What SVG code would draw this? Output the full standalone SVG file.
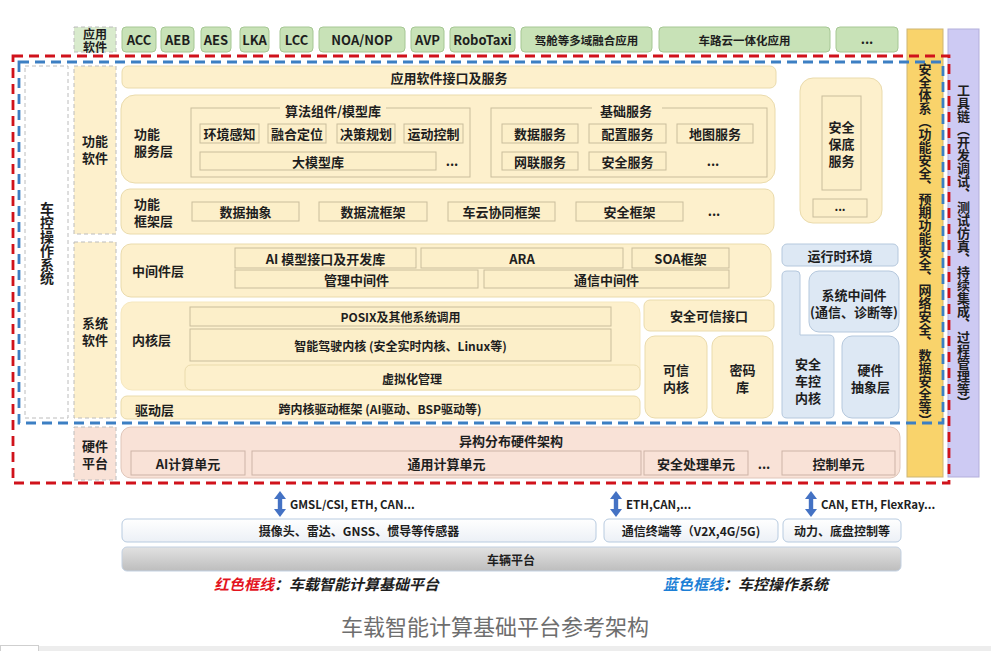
<svg xmlns="http://www.w3.org/2000/svg" width="991" height="651" viewBox="0 0 991 651">
<defs>
<style>
text{font-family:"Noto Sans CJK SC","Noto Sans",sans-serif;font-weight:700;fill:#1e1e1e;font-size:13px;text-anchor:middle;dominant-baseline:central}
.st{text-anchor:start}
.f12{font-size:12px}
.f11{font-size:11.5px}
.app{fill:#C8E2B7;stroke:#A6C794}
.lay{fill:#FDF0CC;stroke:#EADBAC}
.it{fill:#FCEFC9;stroke:#CABD9C}
.grp{fill:none;stroke:#CABD9C}
.blu{fill:#DDE8F4;stroke:#B5C8DD}
.pnk{fill:#F9E2D7;stroke:#E0C6BA}
.pit{fill:#F9E2D7;stroke:#CDB3A7}
.lbl{stroke:#BCBCBC;stroke-dasharray:4 3}
.red{fill:none;stroke:#D0121B;stroke-width:2.8;stroke-dasharray:10 6}
.bl{fill:none;stroke:#3C7FC3;stroke-width:2.8;stroke-dasharray:10 6}
.sen{fill:url(#gsen);stroke:#B8CBE0}
</style>
<linearGradient id="gplat" x1="0" y1="0" x2="0" y2="1"><stop offset="0" stop-color="#E2E2E2"/><stop offset="1" stop-color="#BDBDBD"/></linearGradient>
<linearGradient id="gsen" x1="0" y1="0" x2="0" y2="1"><stop offset="0" stop-color="#FFFFFF"/><stop offset="1" stop-color="#ECF0F6"/></linearGradient>
<path id="arr" d="M0,0 L6,8 L2.2,8 L2.2,18 L6,18 L0,26 L-6,18 L-2.2,18 L-2.2,8 L-6,8 Z" fill="#4472C4"/>
</defs>
<rect width="991" height="651" fill="#FFFFFF"/>

<!-- Application software row -->
<g id="app-software">
<rect class="lbl" x="74" y="27" width="42" height="25" fill="#D9EBCD"/>
<text style="font-size:12px"><tspan x="95" y="33">应用</tspan><tspan x="95" y="46">软件</tspan></text>
<rect class="app" x="122" y="27" width="34" height="25" rx="4"/><text x="139" y="39.5">ACC</text>
<rect class="app" x="161" y="27" width="33" height="25" rx="4"/><text x="177.5" y="39.5">AEB</text>
<rect class="app" x="201" y="27" width="30" height="25" rx="4"/><text x="216" y="39.5">AES</text>
<rect class="app" x="240" y="27" width="29" height="25" rx="4"/><text x="254.5" y="39.5">LKA</text>
<rect class="app" x="280" y="27" width="33" height="25" rx="4"/><text x="296.5" y="39.5">LCC</text>
<rect class="app" x="319" y="27" width="86" height="25" rx="4"/><text x="362" y="39.5">NOA/NOP</text>
<rect class="app" x="411" y="27" width="33" height="25" rx="4"/><text x="427.5" y="39.5">AVP</text>
<rect class="app" x="450" y="27" width="65" height="25" rx="4"/><text x="482.5" y="39.5">RoboTaxi</text>
<rect class="app" x="521" y="27" width="131" height="25" rx="4"/><text class="f11" x="586.5" y="39.5">驾舱等多域融合应用</text>
<rect class="app" x="659" y="27" width="171" height="25" rx="4"/><text class="f11" x="744.5" y="39.5">车路云一体化应用</text>
<rect class="app" x="836" y="27" width="62" height="25" rx="4"/><text x="867" y="38">...</text>
</g>

<!-- Side columns -->
<g id="safety-system">
<rect x="907" y="29" width="36" height="448" fill="#F9D36B" stroke="#CDB574"/>
<text x="925 925 925 925 925 925 925 925 925 925 925 925 925 925 925 925 925 925 925 925 925 925 925 925 925 925 925 925" y="68 81 94 107 120 133 146 159 172 185 198 211 224 237 250 263 276 289 302 315 328 341 354 367 380 393 406 419">安全体系︵功能安全︑预期功能安全︑网络安全︑数据安全等︶</text>
</g>
<g id="toolchain">
<rect x="948" y="29" width="31" height="448" fill="#CDCAF3" stroke="#B3AFDB"/>
<text x="963.5 963.5 963.5 963.5 963.5 963.5 963.5 963.5 963.5 963.5 963.5 963.5 963.5 963.5 963.5 963.5 963.5 963.5 963.5 963.5 963.5 963.5 963.5 963.5 963.5" y="89 102 115 128 141 154 167 180 193 206 219 232 245 258 271 284 297 310 323 336 349 362 375 388 401">工具链︵开发调试︑测试仿真︑持续集成︑过程管理等︶</text>
</g>

<!-- Left label columns -->
<g id="vehicle-os-label">
<rect class="lbl" x="25" y="66" width="43" height="352" fill="#FFFFFF"/>
<text style="font-size:14px" x="47 47 47 47 47 47" y="208 222 236 250 263.5 277">车控操作系统</text>
</g>
<g id="func-software-label">
<rect class="lbl" x="74" y="66" width="42" height="168" fill="#FDF0CC"/>
<text><tspan x="95" y="140">功能</tspan><tspan x="95" y="157">软件</tspan></text>
</g>
<g id="sys-software-label">
<rect class="lbl" x="74" y="242" width="42" height="176" fill="#FDF0CC"/>
<text><tspan x="95" y="322">系统</tspan><tspan x="95" y="339">软件</tspan></text>
</g>
<g id="hw-platform-label">
<rect class="lbl" x="74" y="427" width="42" height="53" fill="#F9E2D7"/>
<text><tspan x="95" y="445">硬件</tspan><tspan x="95" y="462">平台</tspan></text>
</g>

<!-- Functional software -->
<g id="app-interface">
<rect class="lay" x="122" y="66" width="654" height="22" rx="6"/>
<text x="449" y="77">应用软件接口及服务</text>
</g>
<g id="func-service-layer">
<rect class="lay" x="121" y="95" width="654" height="88" rx="14"/>
<text class="st"><tspan x="134" y="133">功能</tspan><tspan x="134" y="150">服务层</tspan></text>
<rect class="grp" x="191" y="108" width="279" height="69"/>
<rect x="280" y="101" width="106" height="16" fill="#FDF0CC"/>
<text x="333" y="110">算法组件/模型库</text>
<rect class="it" x="200" y="124" width="59" height="19"/><text x="229.5" y="133.5">环境感知</text>
<rect class="it" x="268" y="124" width="58" height="19"/><text x="297" y="133.5">融合定位</text>
<rect class="it" x="337" y="124" width="58" height="19"/><text x="366" y="133.5">决策规划</text>
<rect class="it" x="404" y="124" width="59" height="19"/><text x="433.5" y="133.5">运动控制</text>
<rect class="it" x="200" y="152" width="236" height="18"/><text x="318" y="161">大模型库</text>
<text x="452" y="160">...</text>
<rect class="grp" x="491" y="108" width="276" height="69"/>
<rect x="592" y="101" width="70" height="16" fill="#FDF0CC"/>
<text x="626" y="110">基础服务</text>
<rect class="it" x="502" y="124" width="76" height="19"/><text x="540" y="133.5">数据服务</text>
<rect class="it" x="589" y="124" width="77" height="19"/><text x="627.5" y="133.5">配置服务</text>
<rect class="it" x="677" y="124" width="76" height="19"/><text x="715" y="133.5">地图服务</text>
<rect class="it" x="502" y="152" width="76" height="18"/><text x="540" y="161">网联服务</text>
<rect class="it" x="589" y="152" width="77" height="18"/><text x="627.5" y="161">安全服务</text>
<text x="713" y="160">...</text>
</g>
<g id="func-framework-layer">
<rect class="lay" x="121" y="189" width="653" height="45" rx="9"/>
<text class="st"><tspan x="134" y="203">功能</tspan><tspan x="134" y="220">框架层</tspan></text>
<rect class="it" x="192" y="202" width="107" height="19"/><text x="245.5" y="211.5">数据抽象</text>
<rect class="it" x="319" y="202" width="108" height="19"/><text x="373" y="211.5">数据流框架</text>
<rect class="it" x="448" y="202" width="107" height="19"/><text x="501.5" y="211.5">车云协同框架</text>
<rect class="it" x="576" y="202" width="107" height="19"/><text x="629.5" y="211.5">安全框架</text>
<text x="714" y="210">...</text>
</g>
<g id="safety-fallback">
<rect class="lay" x="800" y="78" width="82" height="145" rx="13"/>
<rect class="it" x="822" y="96" width="39" height="94"/>
<text><tspan x="841.5" y="126">安全</tspan><tspan x="841.5" y="143">保底</tspan><tspan x="841.5" y="160">服务</tspan></text>
<rect class="it" x="813" y="199" width="54" height="18"/><text x="840" y="206" class="f11">...</text>
</g>

<!-- System software -->
<g id="middleware-layer">
<rect class="lay" x="121" y="244" width="650" height="53" rx="10"/>
<text class="st" x="132" y="270">中间件层</text>
<rect class="it" x="235" y="248" width="181" height="20"/><text x="325.5" y="258">AI 模型接口及开发库</text>
<rect class="it" x="421" y="248" width="202" height="20"/><text x="522" y="258">ARA</text>
<rect class="it" x="632" y="248" width="97" height="20"/><text x="680.5" y="258">SOA框架</text>
<rect class="it" x="235" y="270" width="243" height="18"/><text x="356.5" y="279">管理中间件</text>
<rect class="it" x="484" y="270" width="245" height="18"/><text x="606.5" y="279">通信中间件</text>
</g>
<g id="kernel-layer">
<rect x="121" y="302" width="519" height="88" rx="11" fill="#FDF0CC" stroke="#F6E8BF"/>
<text class="st" x="132" y="339">内核层</text>
<rect class="it" x="190" y="307" width="421" height="19"/><text class="f12" x="400.5" y="316.5">POSIX及其他系统调用</text>
<rect class="it" x="190" y="329" width="421" height="32"/><text class="f12" x="400.5" y="345">智能驾驶内核 (安全实时内核、Linux等)</text>
<rect class="lay" x="185" y="365" width="455" height="25" rx="6"/><text class="f12" x="412" y="378">虚拟化管理</text>
</g>
<g id="driver-layer">
<rect class="lay" x="121" y="396" width="519" height="23" rx="6"/>
<text class="st" x="135" y="409">驱动层</text>
<text class="f12" x="380" y="408">跨内核驱动框架 (AI驱动、BSP驱动等)</text>
</g>
<g id="trusted-interface">
<rect class="lay" x="644" y="300" width="130" height="31" rx="6"/>
<text x="709" y="315.5">安全可信接口</text>
</g>
<g id="trusted-kernel">
<rect class="lay" x="645" y="336" width="62" height="82" rx="10"/>
<text><tspan x="676" y="369">可信</tspan><tspan x="676" y="386">内核</tspan></text>
</g>
<g id="crypto-lib">
<rect class="lay" x="712" y="336" width="61" height="82" rx="10"/>
<text><tspan x="742.5" y="369">密码</tspan><tspan x="742.5" y="386">库</tspan></text>
</g>
<g id="runtime-env">
<rect class="blu" x="782" y="244" width="116" height="22" rx="5"/>
<text x="840" y="255">运行时环境</text>
</g>
<g id="safe-vehicle-kernel">
<path class="blu" d="M787,271 H796 Q800,271 800,275 V335 H829 Q834,335 834,340 V413 Q834,418 829,418 H787 Q782,418 782,413 V276 Q782,271 787,271 Z"/>
<text><tspan x="808" y="363">安全</tspan><tspan x="808" y="380">车控</tspan><tspan x="808" y="397">内核</tspan></text>
</g>
<g id="sys-middleware">
<rect class="blu" x="809" y="271" width="90" height="61" rx="10"/>
<text><tspan x="854" y="294">系统中间件</tspan><tspan x="854" y="311">(通信、诊断等)</tspan></text>
</g>
<g id="hw-abstraction">
<rect class="blu" x="842" y="336" width="57" height="82" rx="10"/>
<text><tspan x="870.5" y="369">硬件</tspan><tspan x="870.5" y="386">抽象层</tspan></text>
</g>

<!-- Hardware platform -->
<g id="hetero-hw">
<rect class="pnk" x="121" y="427" width="779" height="51" rx="10"/>
<text x="511" y="440">异构分布硬件架构</text>
<rect class="pit" x="131" y="451" width="114" height="24"/><text x="188" y="463">AI计算单元</text>
<rect class="pit" x="252" y="451" width="389" height="24"/><text x="446.5" y="463">通用计算单元</text>
<rect class="pit" x="644" y="451" width="104" height="24"/><text x="696" y="463">安全处理单元</text>
<text x="764" y="463">...</text>
<rect class="pit" x="782" y="451" width="113" height="24"/><text x="838.5" y="463">控制单元</text>
</g>

<!-- Dashed frames -->
<g id="frames">
<rect class="red" x="13" y="56" width="936" height="427"/>
<rect class="bl" x="19" y="62" width="924" height="361"/>
</g>

<!-- Connectors -->
<g id="connectors">
<use href="#arr" transform="translate(280,491)"/>
<use href="#arr" transform="translate(616,491)"/>
<use href="#arr" transform="translate(811,491)"/>
<text class="st f11" x="290" y="504">GMSL/CSI, ETH, CAN...</text>
<text class="st f11" x="626" y="504">ETH,CAN,...</text>
<text class="st f11" x="821" y="504">CAN, ETH, FlexRay...</text>
</g>

<!-- Vehicle side -->
<g id="sensors">
<rect class="sen" x="122" y="519" width="474" height="23" rx="5"/>
<text class="f12" x="359" y="530.5">摄像头、雷达、GNSS、惯导等传感器</text>
</g>
<g id="comm-terminal">
<rect class="sen" x="604" y="519" width="174" height="23" rx="5"/>
<text class="f12" x="691" y="530.5">通信终端等（V2X,4G/5G)</text>
</g>
<g id="power-chassis">
<rect class="sen" x="783" y="519" width="118" height="23" rx="5"/>
<text class="f12" x="842" y="530.5">动力、底盘控制等</text>
</g>
<g id="vehicle-platform">
<rect x="122" y="547" width="779" height="24" rx="5" fill="url(#gplat)" stroke="#C3D1E2"/>
<text class="f12" x="511" y="559">车辆平台</text>
</g>

<!-- Legend and caption -->
<g id="legend">
<text class="st" x="214" y="583" style="font-size:15px;font-style:italic"><tspan fill="#E3141E">红色框线</tspan>：车载智能计算基础平台</text>
<text class="st" x="663" y="583" style="font-size:15px;font-style:italic"><tspan fill="#1C7FD6">蓝色框线</tspan>：车控操作系统</text>
</g>
<text x="495" y="625" style="font-size:22px;font-weight:400;fill:#6E6E6E">车载智能计算基础平台参考架构</text>
<rect x="0" y="646" width="991" height="5" fill="#EDEDED"/>
<rect x="0.5" y="645.5" width="38" height="6" fill="#FFFFFF" stroke="#CFCFCF"/>
</svg>
